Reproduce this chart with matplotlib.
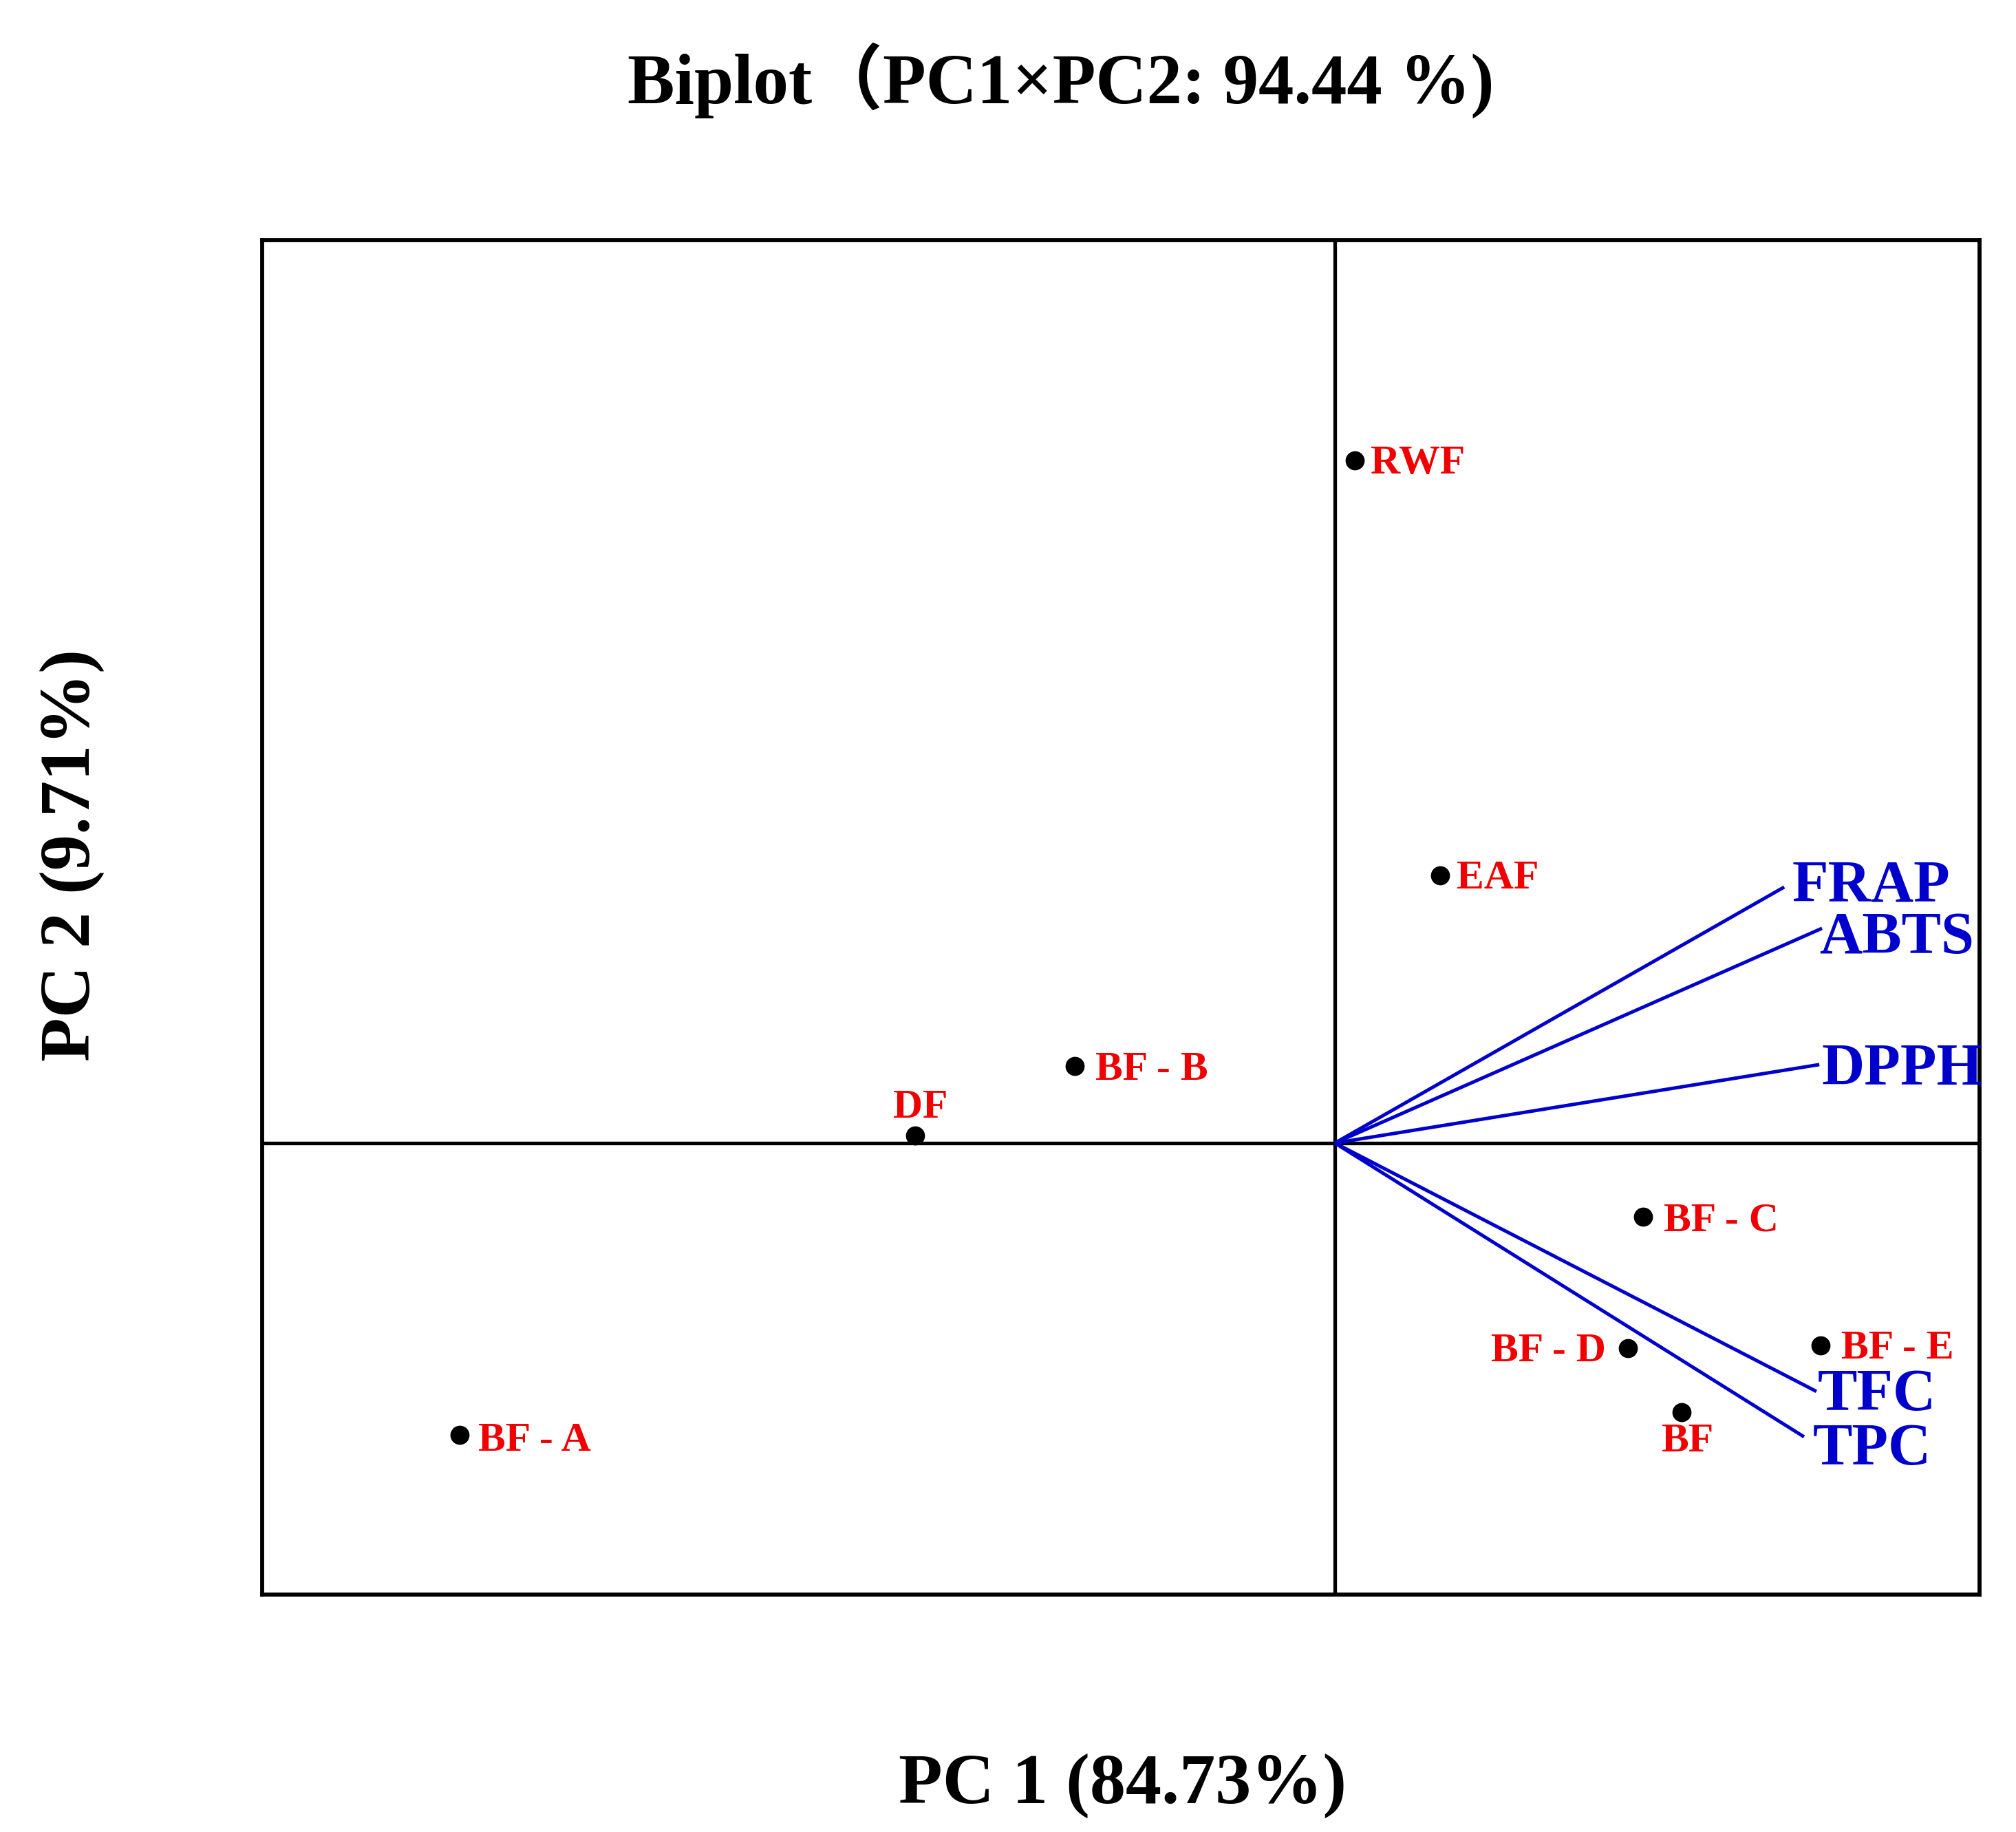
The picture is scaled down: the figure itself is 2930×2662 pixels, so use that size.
import matplotlib
matplotlib.use("Agg")
import matplotlib.pyplot as plt

# ---- data (PCA scores and loadings, arbitrary biplot units) ----
samples = ['RWF', 'EAF', 'BF - B', 'DF', 'BF - A', 'BF - C', 'BF - D', 'BF - E', 'BF']
pc1_scores = [0.098, 0.510, -1.260, -2.033, -4.240, 1.493, 1.420, 2.353, 1.680]
pc2_scores = [3.307, 1.297, 0.373, 0.037, -1.413, -0.357, -0.993, -0.980, -1.303]

variables = ['FRAP', 'ABTS', 'DPPH', 'TFC', 'TPC']
pc1_loadings = [2.177, 2.360, 2.347, 2.333, 2.273]
pc2_loadings = [1.240, 1.040, 0.380, -1.203, -1.423]

title = 'Biplot（PC1×PC2: 94.44 %)'
xlabel = 'PC 1 (84.73%)'
ylabel = 'PC 2 (9.71%)'

# ---- label placement (pixel offsets: dx, dy-up, ha) ----
sample_offsets = {
    'RWF': (23, -19, 'left'), 'EAF': (24, -19, 'left'), 'BF - B': (30, -20, 'left'),
    'DF': (8, 26, 'center'), 'BF - A': (27, -23, 'left'), 'BF - C': (30, -20, 'left'),
    'BF - D': (-32, -19, 'right'), 'BF - E': (30, -19, 'left'), 'BF': (8, -57, 'center'),
}
var_offsets = {
    'FRAP': (11, -21), 'ABTS': (-4, -36), 'DPPH': (3, -29), 'TFC': (2, -27), 'TPC': (13, -40),
}

DPI = 100
fig = plt.figure(figsize=(29.30, 26.62), dpi=DPI)
ax = fig.add_axes([0.1300, 0.1296, 0.8519, 0.7393])
ax.set_xlim(-5.197, 3.123)
ax.set_ylim(-2.187, 4.373)
ax.set_xticks([])
ax.set_yticks([])
for s in ax.spines.values():
    s.set_linewidth(4.2)
    s.set_color('black')

ax.axhline(0, color='black', lw=3.8, zorder=1)
ax.axvline(0, color='black', lw=3.8, zorder=1)

blue = '#0000CD'
serif = ['Liberation Serif', 'DejaVu Serif']
for name, lx, ly in zip(variables, pc1_loadings, pc2_loadings):
    ax.plot([0, lx], [0, ly], color=blue, lw=3.6, zorder=2, solid_capstyle='butt')
    dx, dy = var_offsets[name]
    ax.annotate(name, (lx, ly), xytext=(dx, dy), textcoords='offset pixels',
                ha='left', va='baseline', color=blue, fontsize=62,
                fontweight='bold', family=serif, annotation_clip=False, clip_on=False)

ax.scatter(pc1_scores, pc2_scores, s=400, color='black', zorder=3, linewidths=0)
for name, x, y in zip(samples, pc1_scores, pc2_scores):
    dx, dy, ha = sample_offsets[name]
    ax.annotate(name, (x, y), xytext=(dx, dy), textcoords='offset pixels',
                ha=ha, va='baseline', color='#F00000', fontsize=43,
                fontweight='bold', family=serif)

fig.text(0.5263, 1 - 150 / 2662, title, ha='center', va='baseline', fontsize=74,
         fontweight='bold', family=['Liberation Serif', 'Noto Sans CJK SC', 'DejaVu Sans'])
fig.text(1632 / 2930, 1 - 2620 / 2662, xlabel, ha='center', va='baseline', fontsize=75,
         fontweight='bold', family=serif)
fig.text(105 / 2930, 1 - 1243 / 2662, ylabel, ha='center', va='center', rotation=90,
         fontsize=75, fontweight='bold', family=serif)

fig.savefig('out.png', dpi=DPI, facecolor='white')
